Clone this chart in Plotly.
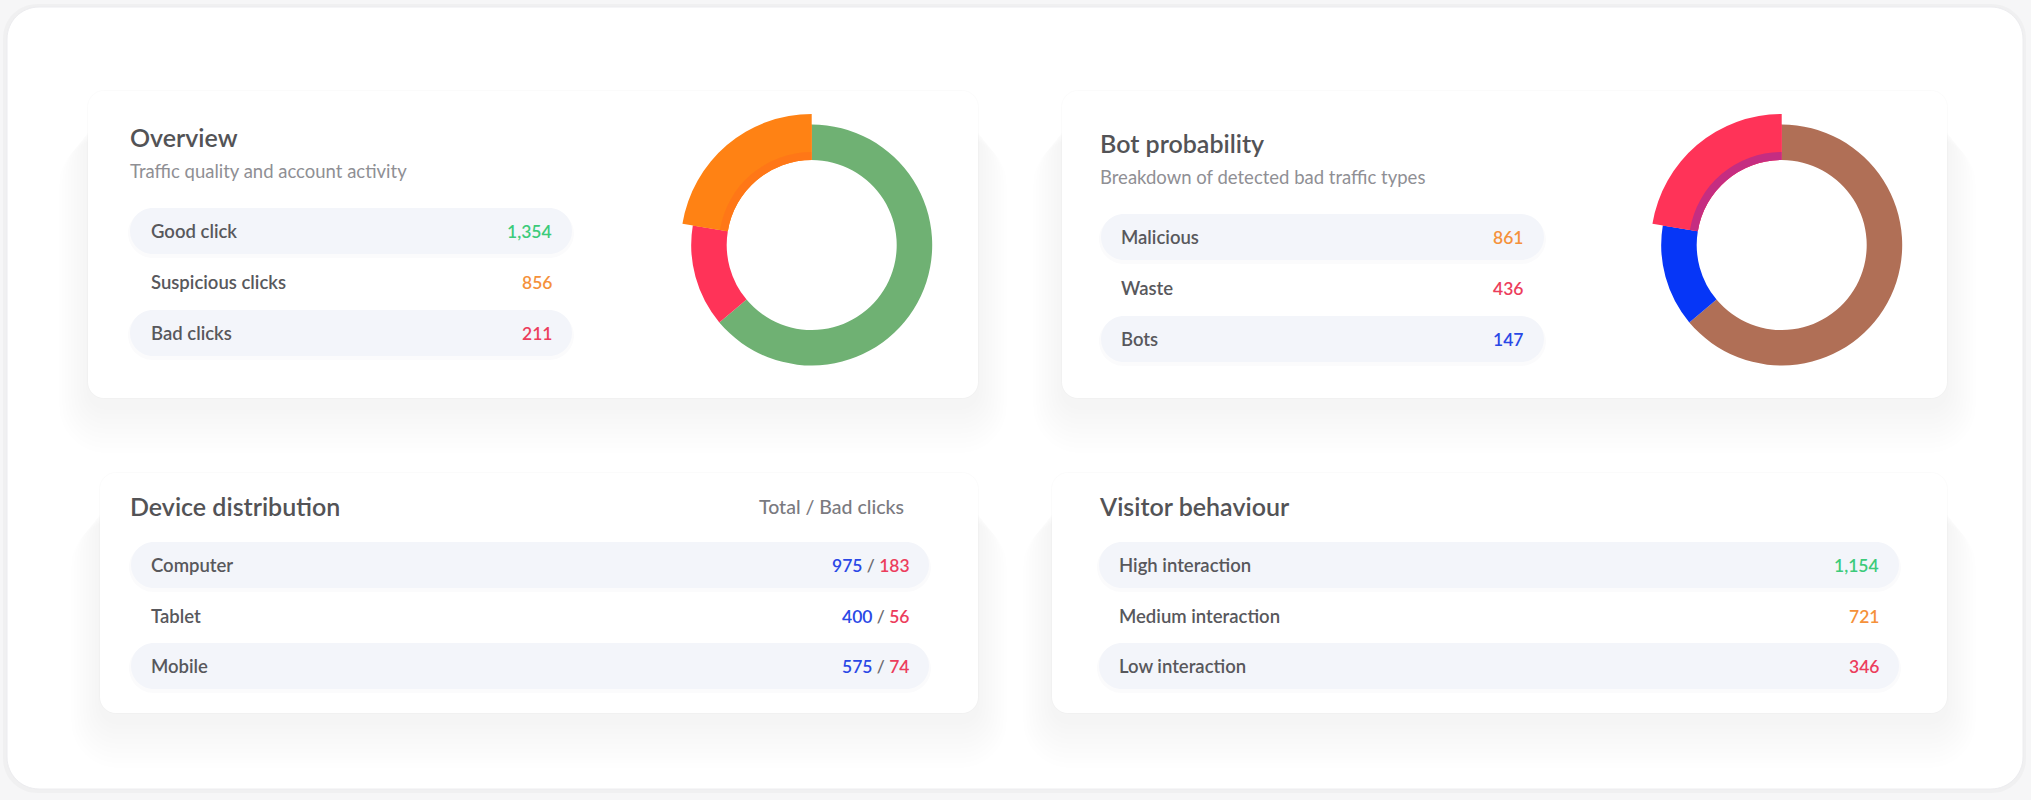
import plotly.graph_objects as go

W, H = 2031, 800

# ---------------- data ----------------
overview_labels = ["Good click", "Suspicious clicks", "Bad clicks"]
overview_values = [1354, 856, 211]

# donut ring (as drawn, clockwise from 12 o'clock), shares (%)
overview_ring_labels = ["Good click", "Bad clicks", "Suspicious clicks"]
overview_ring_share = [63.9, 13.7, 22.4]

bot_labels = ["Malicious", "Waste", "Bots"]
bot_values = [861, 436, 147]

bot_ring_labels = ["Malicious", "Bots", "Waste"]
bot_ring_share = [63.9, 13.7, 22.4]

device_labels = ["Computer", "Tablet", "Mobile"]
device_total = [975, 400, 575]
device_bad = [183, 56, 74]

visitor_labels = ["High interaction", "Medium interaction", "Low interaction"]
visitor_values = [1154, 721, 346]

# ---------------- styles ----------------
FONT = "Lato"
C_TITLE = "#535356"
C_LABEL = "#58585c"
C_SUB = "#8f8f94"
C_GREEN_TXT = "#3ccb7a"
C_ORANGE_TXT = "#f5913a"
C_RED_TXT = "#ec3d5c"
C_BLUE_TXT = "#2a48e6"
C_PILL = "#f3f5fa"

RING_GREEN = "#6fb173"
RING_RED = "#ff3358"
RING_ORANGE = "#ff8214"
RING_BROWN = "#b06f56"
RING_BLUE = "#0636f7"

overview_value_colors = [C_GREEN_TXT, C_ORANGE_TXT, C_RED_TXT]
bot_value_colors = [C_ORANGE_TXT, C_RED_TXT, C_BLUE_TXT]
visitor_value_colors = [C_GREEN_TXT, C_ORANGE_TXT, C_RED_TXT]

TITLE_SIZE = 25
SUB_SIZE = 18.5
LABEL_SIZE = 18.5
VALUE_SIZE = 17.5

shapes = []
annotations = []


def rrect(x0, y0, x1, y1, r):
    k = 0.5523 * r
    return (f"M {x0+r},{y0} L {x1-r},{y0} C {x1-r+k},{y0} {x1},{y0+r-k} {x1},{y0+r} "
            f"L {x1},{y1-r} C {x1},{y1-r+k} {x1-r+k},{y1} {x1-r},{y1} "
            f"L {x0+r},{y1} C {x0+r-k},{y1} {x0},{y1-r+k} {x0},{y1-r} "
            f"L {x0},{y0+r} C {x0},{y0+r-k} {x0+r-k},{y0} {x0+r},{y0} Z")


def add_rr(x0, y0, x1, y1, r, fill, line=None, lw=0):
    shapes.append(dict(type="path", xref="x", yref="y", layer="below",
                       path=rrect(x0, y0, x1, y1, r), fillcolor=fill,
                       line=dict(color=line or "rgba(0,0,0,0)", width=lw)))


def card(x0, y0, x1, y1):
    for i in range(10):
        e = 2 + i * 3.0
        dy = 10 + i * 1.8
        add_rr(x0 - e, y0 + 20 + dy, x1 + e, y1 + e + dy, 18 + e,
               "rgba(60,60,70,0.0045)")
    add_rr(x0 - 1, y0 - 1, x1 + 1, y1 + 1, 17, "rgba(0,0,0,0.015)")
    add_rr(x0, y0, x1, y1, 16, "#ffffff")


def pill(x0, x1, yc, h=46):
    add_rr(x0 - 2, yc - h / 2 + 1, x1 + 2, yc + h / 2 + 4, h / 2 + 2, "rgba(30,40,80,0.02)")
    add_rr(x0, yc - h / 2, x1, yc + h / 2, h / 2, C_PILL)


def text(x, y, s, size, color, anchor="left", weight=600):
    annotations.append(dict(x=x, y=y, xref="x", yref="y", text=s, showarrow=False,
                            xanchor=anchor, yanchor="middle",
                            font=dict(family=FONT, size=size, color=color, weight=weight)))


# ---------------- container ----------------
add_rr(3, 4, W - 5, H - 7, 34, "rgba(0,0,0,0.025)")
add_rr(7, 7, W - 8, H - 11, 32, "#ffffff", "#ececef", 1)

# ---------------- cards ----------------
card(88, 91, 978, 398)
card(1062, 91, 1947, 398)
card(100, 473, 978, 713)
card(1052, 473, 1947, 713)

# ---------------- Overview ----------------
text(128, 137, "Overview", TITLE_SIZE, C_TITLE)
text(128, 171, "Traffic quality and account activity", SUB_SIZE, C_SUB, weight=400)
ov_rows = [231, 282, 333]
for i, (lab, val) in enumerate(zip(overview_labels, overview_values)):
    if i % 2 == 0:
        pill(130, 572, ov_rows[i])
    text(149, ov_rows[i], lab, LABEL_SIZE, C_LABEL)
    text(554, ov_rows[i], f"{val:,}", VALUE_SIZE, overview_value_colors[i], anchor="right")

# ---------------- Bot probability ----------------
text(1098, 143, "Bot probability", TITLE_SIZE, C_TITLE)
text(1098, 177, "Breakdown of detected bad traffic types", SUB_SIZE, C_SUB, weight=400)
bot_rows = [237, 288, 339]
for i, (lab, val) in enumerate(zip(bot_labels, bot_values)):
    if i % 2 == 0:
        pill(1101, 1544, bot_rows[i])
    text(1119, bot_rows[i], lab, LABEL_SIZE, C_LABEL)
    text(1525, bot_rows[i], f"{val:,}", VALUE_SIZE, bot_value_colors[i], anchor="right")

# ---------------- Device distribution ----------------
text(128, 506, "Device distribution", TITLE_SIZE, C_TITLE)
text(906, 506, "Total / Bad clicks", 19.5, "#7a7a7f", anchor="right", weight=500)
dev_rows = [565, 616, 666]
for i, lab in enumerate(device_labels):
    if i % 2 == 0:
        pill(131, 929, dev_rows[i])
    text(149, dev_rows[i], lab, LABEL_SIZE, C_LABEL)
    s = (f"<span style='color:{C_BLUE_TXT}'>{device_total[i]:,}</span>"
         f"<span style='color:#6a6a70'> / </span>"
         f"<span style='color:{C_RED_TXT}'>{device_bad[i]:,}</span>")
    text(912, dev_rows[i], s, VALUE_SIZE, C_LABEL, anchor="right")

# ---------------- Visitor behaviour ----------------
text(1097, 506, "Visitor behaviour", TITLE_SIZE, C_TITLE)
vis_rows = [565, 616, 666]
for i, (lab, val) in enumerate(zip(visitor_labels, visitor_values)):
    if i % 2 == 0:
        pill(1099, 1899, vis_rows[i])
    text(1117, vis_rows[i], lab, LABEL_SIZE, C_LABEL)
    text(1881, vis_rows[i], f"{val:,}", VALUE_SIZE, visitor_value_colors[i], anchor="right")


# ---------------- donuts ----------------
def dom(cx, cy, R):
    return dict(x=[(cx - R) / W, (cx + R) / W], y=[1 - (cy + R) / H, 1 - (cy - R) / H])


R_OUT, R_IN, R_HI = 120.5, 85.0, 131.0
T = "rgba(0,0,0,0)"

fig = go.Figure()
fig.add_trace(go.Scatter(x=[0, W], y=[0, H], mode="markers", marker=dict(opacity=0),
                         hoverinfo="skip", showlegend=False))


def donut(cx, cy, labels, shares, colors, hi_color, inner_tint):
    fig.add_trace(go.Pie(labels=labels, values=shares, sort=False, direction="clockwise",
                         rotation=0, hole=R_IN / R_OUT, domain=dom(cx, cy, R_OUT),
                         marker=dict(colors=colors, line=dict(width=0)),
                         textinfo="none", showlegend=False, hoverinfo="label"))
    fig.add_trace(go.Pie(labels=labels, values=shares, sort=False, direction="clockwise",
                         rotation=0, hole=R_IN / R_HI, domain=dom(cx, cy, R_HI),
                         marker=dict(colors=[T, T, hi_color], line=dict(width=0)),
                         textinfo="none", showlegend=False, hoverinfo="skip"))
    R_T = 93.0
    fig.add_trace(go.Pie(labels=labels, values=shares, sort=False, direction="clockwise",
                         rotation=0, hole=R_IN / R_T, domain=dom(cx, cy, R_T),
                         marker=dict(colors=[T, T, inner_tint], line=dict(width=0)),
                         textinfo="none", showlegend=False, hoverinfo="skip"))


donut(811.7, 245, overview_ring_labels, overview_ring_share,
      [RING_GREEN, RING_RED, RING_ORANGE], RING_ORANGE, "rgba(255,70,40,0.18)")
donut(1781.7, 245, bot_ring_labels, bot_ring_share,
      [RING_BROWN, RING_BLUE, RING_RED], RING_RED, "rgba(140,40,170,0.5)")

fig.update_layout(
    width=W, height=H, margin=dict(l=0, r=0, t=0, b=0),
    paper_bgcolor="#f6f6f7", plot_bgcolor="rgba(0,0,0,0)",
    xaxis=dict(range=[0, W], visible=False, fixedrange=True),
    yaxis=dict(range=[H, 0], visible=False, fixedrange=True),
    shapes=shapes, annotations=annotations, showlegend=False,
)

fig.write_html("out.html")
